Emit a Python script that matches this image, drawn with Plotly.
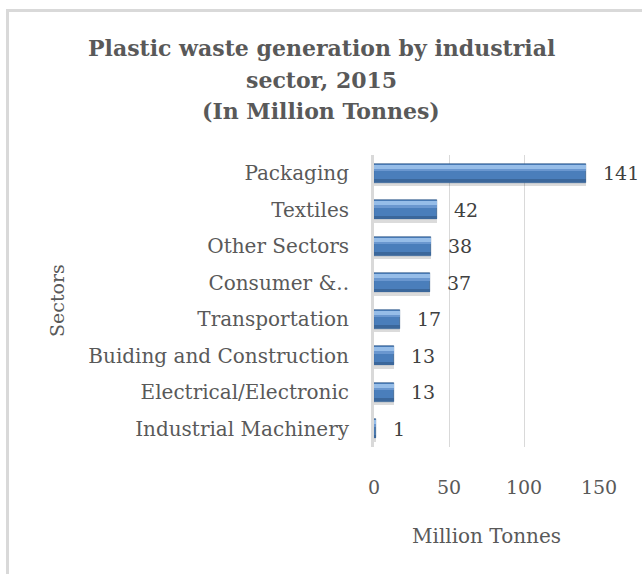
import plotly.graph_objects as go

# Plastic waste generation by industrial sector, 2015 (million tonnes)
sectors = [
    "Packaging",
    "Textiles",
    "Other Sectors",
    "Consumer &..",
    "Transportation",
    "Buiding and Construction",
    "Electrical/Electronic",
    "Industrial Machinery",
]
tonnes = [141, 42, 38, 37, 17, 13, 13, 1]
x_ticks = [0, 50, 100, 150]

W, H = 642, 574
ML, MR, MT, MB = 374, 43, 155, 127
PW, PH = W - ML - MR, H - MT - MB

FONT = "DejaVu Serif"
GREY = "#595959"


def px_x(px):
    return (px - ML) / PW


def px_y(py):
    return (H - MB - py) / PH


pos = list(range(len(sectors)))
fig = go.Figure()

# bevelled bar look built from stacked layers of the same values
layers = [
    dict(offset=-0.20, width=0.56, color="rgba(0,0,0,0.14)", line=0),
    dict(offset=-0.26, width=0.52, color="#4A7EBB", line=0.6),
    dict(offset=-0.23, width=0.11, color="#96BDE8", line=0),
    dict(offset=-0.12, width=0.06, color="#6A97CF", line=0),
    dict(offset=0.16, width=0.08, color="#3B679B", line=0),
]
for ly in layers:
    fig.add_trace(go.Bar(
        x=tonnes, y=pos, orientation="h",
        offset=ly["offset"], width=ly["width"],
        marker=dict(color=ly["color"],
                    line=dict(color="#2F5683", width=ly["line"])),
        hoverinfo="skip", showlegend=False,
    ))

# value labels beside each bar
for v, p in zip(tonnes, pos):
    fig.add_annotation(x=v, y=p, text=str(v), xanchor="left", yanchor="middle",
                       xshift=15, showarrow=False,
                       font=dict(family=FONT, size=19, color="#404040"))

# title lines
title_lines = [
    ("Plastic waste generation by industrial", 48),
    ("sector, 2015", 80),
    ("(In Million Tonnes)", 111),
]
for t, py in title_lines:
    fig.add_annotation(xref="paper", yref="paper", x=px_x(W / 2), y=px_y(py),
                       text=f"<b>{t}</b>", showarrow=False,
                       xanchor="center", yanchor="middle",
                       font=dict(family=FONT, size=22, color=GREY))

# axis titles
fig.add_annotation(xref="paper", yref="paper", x=0.5, y=px_y(536),
                   text="Million Tonnes", showarrow=False,
                   xanchor="center", yanchor="middle",
                   font=dict(family=FONT, size=20, color=GREY))
fig.add_annotation(xref="paper", yref="paper", x=px_x(57), y=0.5,
                   text="Sectors", showarrow=False, textangle=-90,
                   xanchor="center", yanchor="middle",
                   font=dict(family=FONT, size=19, color=GREY))

# outer frame (top and left edges)
frame = dict(color="#D9D9D9", width=3)
fig.add_shape(type="line", xref="paper", yref="paper",
              x0=px_x(6), x1=px_x(W + 2), y0=px_y(10.5), y1=px_y(10.5), line=frame)
fig.add_shape(type="line", xref="paper", yref="paper",
              x0=px_x(7.5), x1=px_x(7.5), y0=px_y(9), y1=px_y(H + 2), line=frame)

fig.update_layout(
    width=W, height=H,
    margin=dict(l=ML, r=MR, t=MT, b=MB),
    paper_bgcolor="white", plot_bgcolor="white",
    barmode="overlay", bargap=0,
    showlegend=False,
)
fig.update_xaxes(
    range=[0, 150], tickvals=x_ticks, ticks="",
    showgrid=True, gridcolor="#D9D9D9", gridwidth=1,
    zeroline=False, showline=False,
    tickfont=dict(family=FONT, size=19, color=GREY),
    ticklabelstandoff=27,
)
fig.update_yaxes(
    range=[len(sectors) - 0.5, -0.5], tickvals=pos, ticktext=sectors,
    ticks="", showgrid=False, zeroline=False,
    showline=True, linecolor="#D9D9D9", linewidth=3,
    tickfont=dict(family=FONT, size=20, color=GREY),
    ticklabelstandoff=18,
)

fig.write_html("out.html")
